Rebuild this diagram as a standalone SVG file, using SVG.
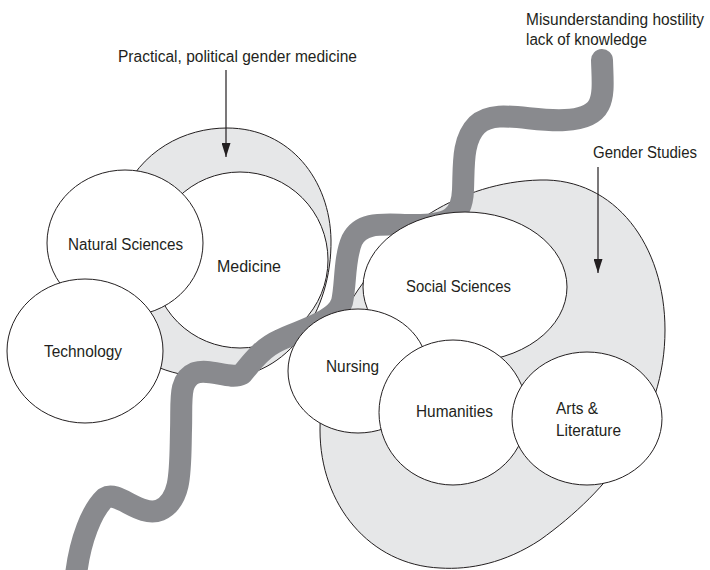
<svg xmlns="http://www.w3.org/2000/svg" width="710" height="570" viewBox="0 0 710 570">
<style>
.blob{fill:#e6e7e8;stroke:#231f20;stroke-width:1}
.node{fill:#ffffff;stroke:#231f20;stroke-width:1}
.lbl{font-family:"Liberation Sans","DejaVu Sans",sans-serif;font-size:16px;fill:#231f20}
.river{fill:none;stroke:#898a8e;stroke-width:22;stroke-linecap:round;stroke-linejoin:round}
.arrow{stroke:#231f20;stroke-width:1.2;fill:none}
</style>
<defs>
<marker id="ah" markerUnits="userSpaceOnUse" markerWidth="14" markerHeight="9" refX="14" refY="4.5" orient="auto">
<path d="M0,0 L14,4.5 L0,9 Z" fill="#231f20"/>
</marker>
</defs>
<rect width="710" height="570" fill="#ffffff"/>

<g id="practical-medicine-area">
<path class="blob" d="M120,200 C140,150 185,128 227,128 C290,128 330,180 331,240 C332,310 290,378 220,378 C195,378 175,374 160,368 L100,300 Z"/>
</g>
<g id="gender-studies-area">
<path class="blob" d="M363,283 C390,230 460,182 540,180 C615,178 665,245 665,330 C665,420 610,490 540,540 C505,563 470,570 440,568 C370,565 320,505 320,430 C320,370 335,320 363,283 Z"/>
</g>

<g id="medicine">
<circle class="node" cx="240" cy="260" r="88"/>
<text class="lbl" x="217" y="272" textLength="64" lengthAdjust="spacingAndGlyphs">Medicine</text>
</g>
<g id="natural-sciences">
<ellipse class="node" cx="125" cy="243" rx="78" ry="73"/>
<text class="lbl" x="68" y="250" textLength="115" lengthAdjust="spacingAndGlyphs">Natural Sciences</text>
</g>
<g id="technology">
<ellipse class="node" cx="85" cy="351" rx="78" ry="72"/>
<text class="lbl" x="44" y="357" textLength="78" lengthAdjust="spacingAndGlyphs">Technology</text>
</g>

<g id="connectors">
<path id="river" class="river" d="M602,60 C603,95 608,118 565,120 C530,122 495,108 477,125 C462,140 464,165 463,190 C462,218 448,225 415,225 C385,225 362,220 352,240 C344,258 346,285 342,302 C336,322 300,330 280,340 C262,348 252,362 242,374 C230,380 210,368 195,373 C178,380 182,400 181,430 C180,470 182,500 160,510 C140,518 118,490 105,498 C92,510 80,540 76,575"/>
<line class="arrow" x1="226" y1="70" x2="226" y2="157" marker-end="url(#ah)"/>
<line class="arrow" x1="598" y1="167" x2="598" y2="273" marker-end="url(#ah)"/>
</g>

<g id="social-sciences">
<ellipse class="node" cx="465" cy="287" rx="102" ry="75"/>
<text class="lbl" x="406" y="292" textLength="105" lengthAdjust="spacingAndGlyphs">Social Sciences</text>
</g>
<g id="nursing">
<ellipse class="node" cx="358" cy="371" rx="70" ry="62"/>
<text class="lbl" x="326" y="372" textLength="53" lengthAdjust="spacingAndGlyphs">Nursing</text>
</g>
<g id="humanities">
<ellipse class="node" cx="453" cy="412.5" rx="74" ry="72.5"/>
<text class="lbl" x="416" y="417" textLength="77" lengthAdjust="spacingAndGlyphs">Humanities</text>
</g>
<g id="arts-literature">
<ellipse class="node" cx="587" cy="418.5" rx="75" ry="66.5"/>
<text class="lbl" x="556" y="414" textLength="42" lengthAdjust="spacingAndGlyphs">Arts &amp;</text>
<text class="lbl" x="556" y="436" textLength="65" lengthAdjust="spacingAndGlyphs">Literature</text>
</g>

<g id="labels">
<text class="lbl" x="118" y="62" textLength="239" lengthAdjust="spacingAndGlyphs">Practical, political gender medicine</text>
<text class="lbl" x="526" y="25" textLength="178" lengthAdjust="spacingAndGlyphs">Misunderstanding hostility</text>
<text class="lbl" x="526" y="45" textLength="121" lengthAdjust="spacingAndGlyphs">lack of knowledge</text>
<text class="lbl" x="593" y="158" textLength="104" lengthAdjust="spacingAndGlyphs">Gender Studies</text>
</g>
</svg>
